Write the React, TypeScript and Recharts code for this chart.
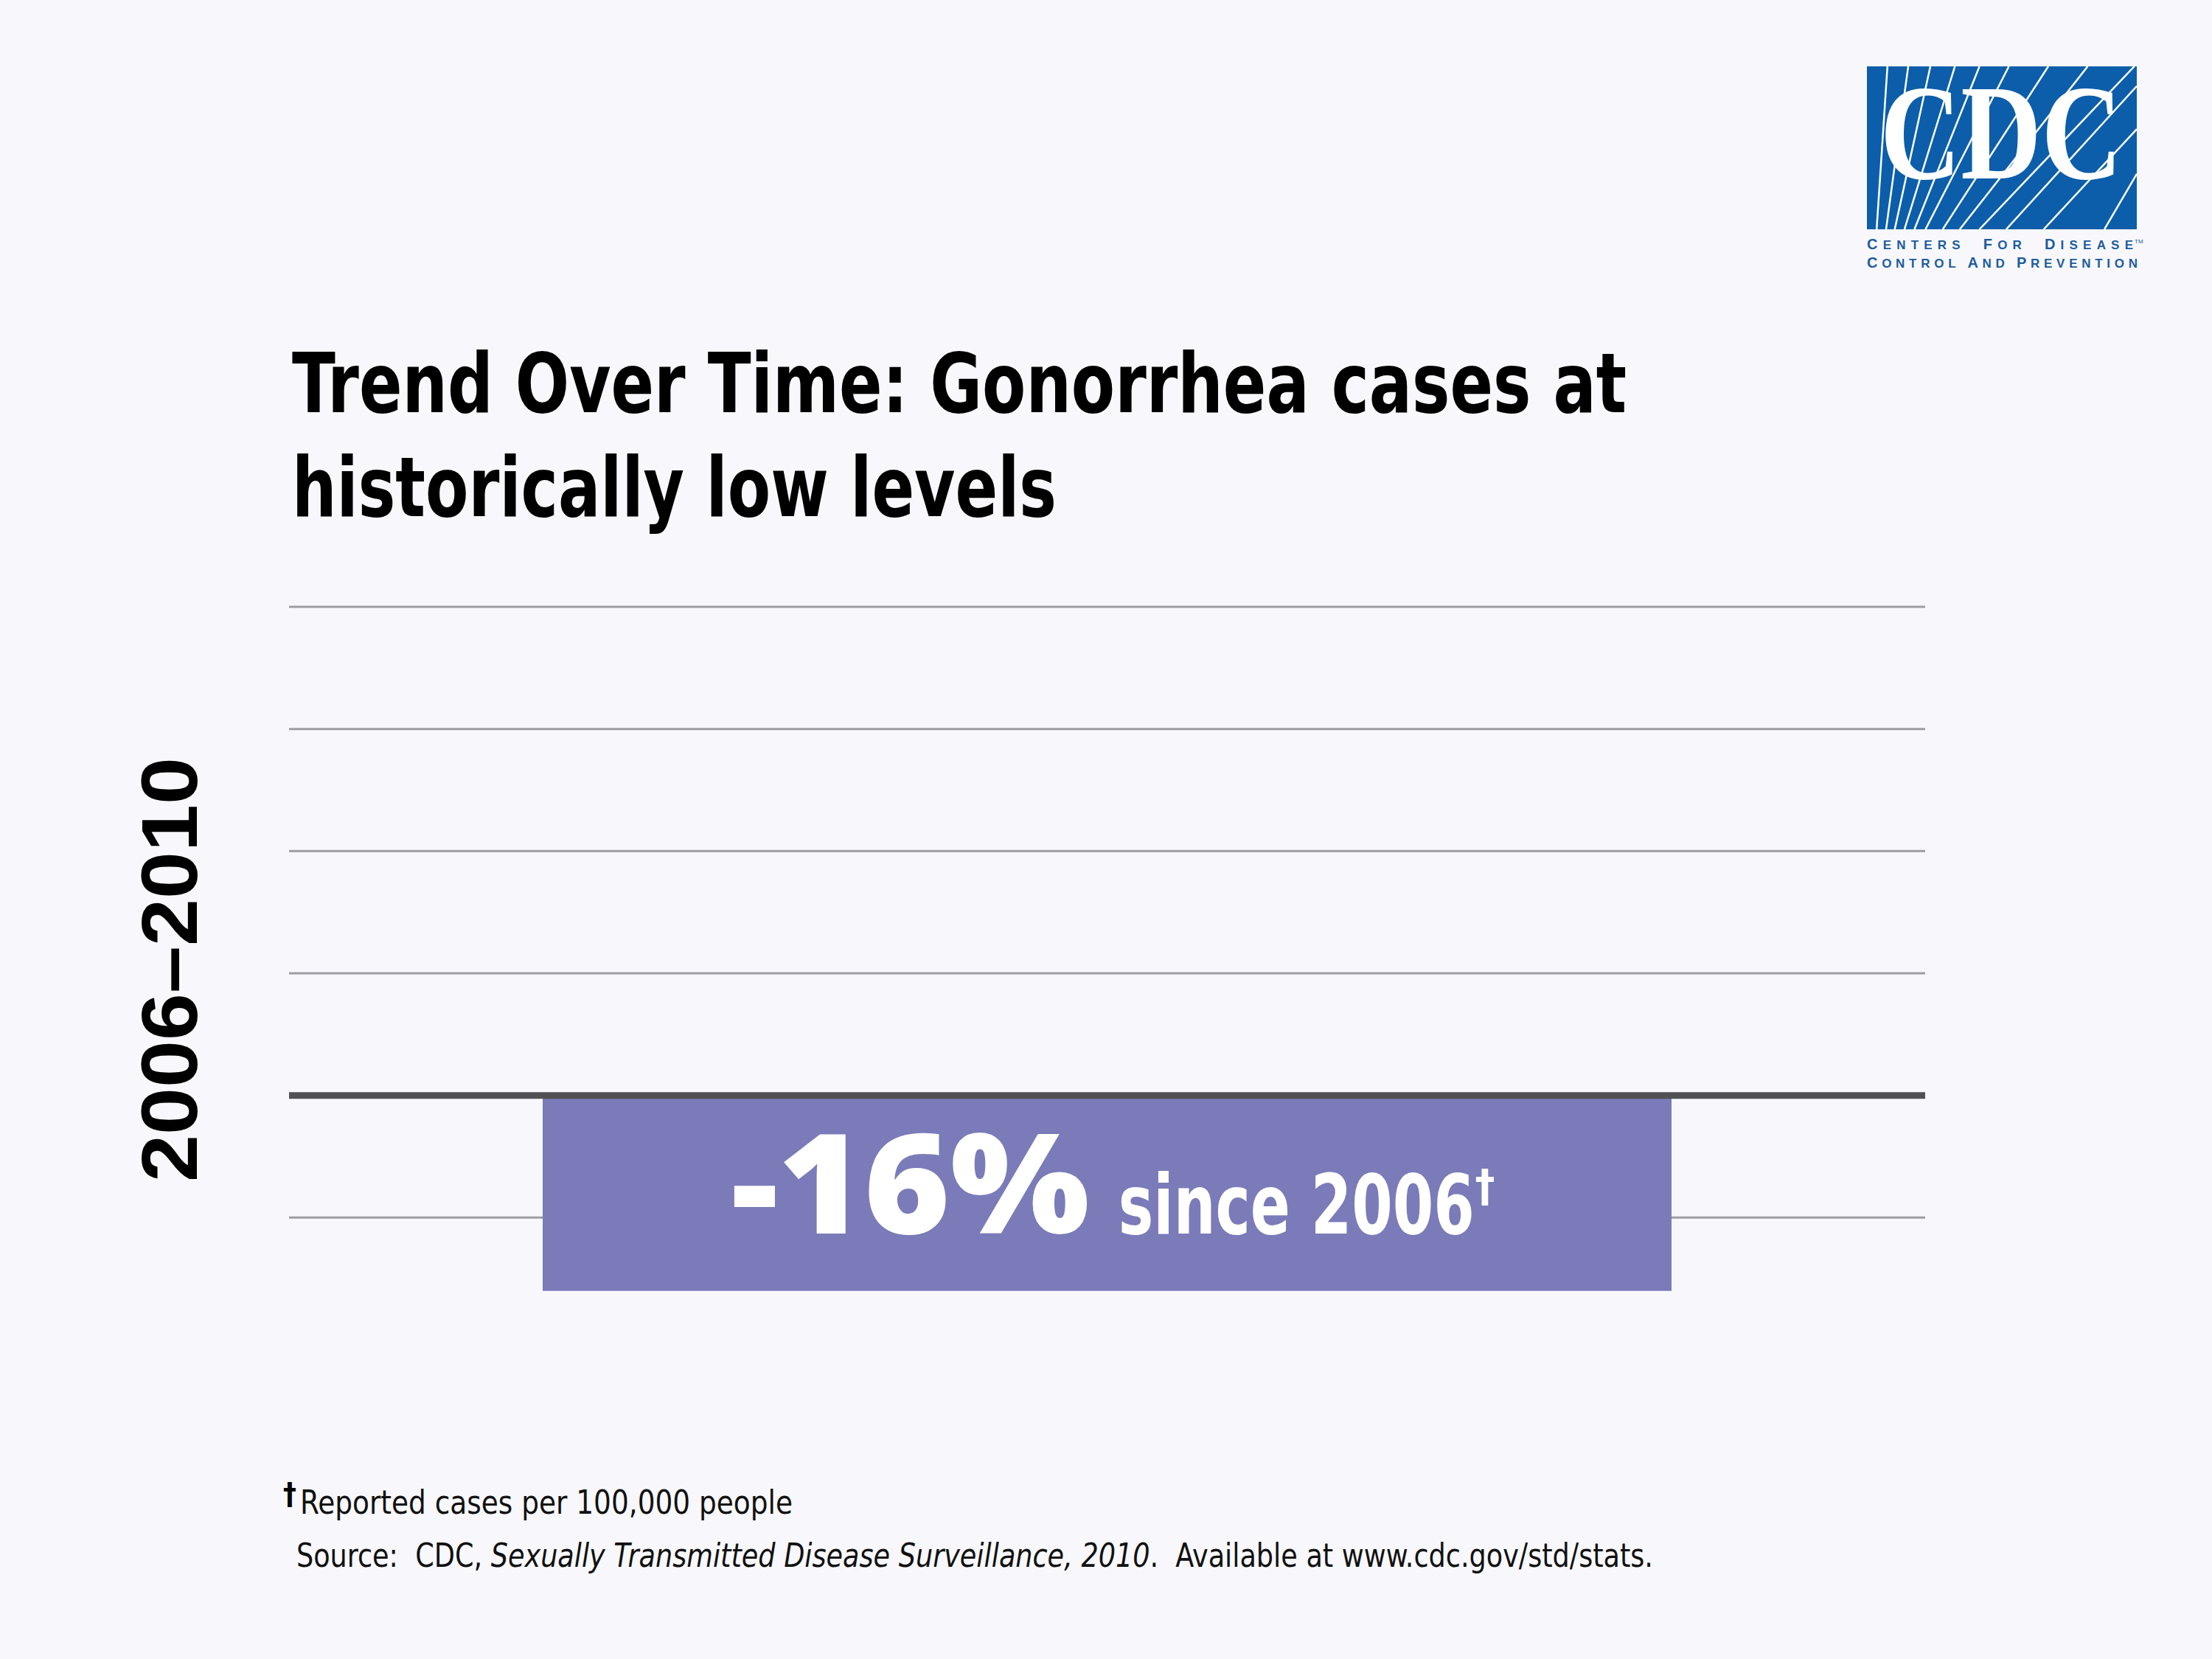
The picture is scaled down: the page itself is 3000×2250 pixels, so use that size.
import React from 'react'
import { BarChart, Bar, XAxis, YAxis, CartesianGrid, ReferenceLine, LabelList } from 'recharts'

// data
const PERIODS = ['2006–2010']
const CHANGE_PCT = [-16]
const BASE_YEAR = 2006
const GRID_TICKS = [-10, 0, 10, 20, 30, 40]

const data = PERIODS.map((period, i) => ({ period, change: CHANGE_PCT[i] }))

const BG = '#f8f8fc'
const BAR = '#7a7bb8'
const NARROW = '"Liberation Sans Narrow", "DejaVu Sans Condensed", "Liberation Sans", sans-serif'
const NB = '\u00a0'

// rays of the CDC logo, [start x, start y, end x, end y] in logo box units (0..1)
const RAYS: [number, number, number, number][] = [
  [0.036, 1, 0.076, 0],
  [0.071, 1, 0.153, 0],
  [0.103, 1, 0.235, 0],
  [0.139, 1, 0.326, 0],
  [0.176, 1, 0.417, 0],
  [0.217, 1, 0.526, 0],
  [0.281, 1, 0.672, 0],
  [0.344, 1, 0.818, 0],
  [0.417, 1, 0.991, 0],
  [0.516, 1, 1, 0.121],
  [0.655, 1, 1, 0.385],
  [0.88, 1, 1, 0.66],
]

function ChangeLabel(props: any) {
  const { x, y, width, height, value } = props
  const top = Math.min(y, y + height)
  const h = Math.abs(height)
  const baseline = top + h * 0.705
  return (
    <g>
      <text
        x={x + width * 0.167}
        y={baseline}
        fill="#fff"
        fontFamily='"Open Sans", sans-serif'
        fontWeight={800}
        fontSize={188}
        textLength={486}
        lengthAdjust="spacingAndGlyphs"
      >
        {`${value}%`}
      </text>
      <text
        x={x + width * 0.51}
        y={baseline}
        fill="#fff"
        fontFamily={NARROW}
        fontWeight={700}
        fontSize={112}
        textLength={483}
        lengthAdjust="spacingAndGlyphs"
      >
        {`since ${BASE_YEAR}`}
      </text>
      <text x={x + width * 0.826} y={baseline - 44} fill="#fff" fontFamily={NARROW} fontWeight={700} fontSize={60}>
        †
      </text>
    </g>
  )
}

function CdcLogo() {
  const bx = 2532, by = 90, bw = 366, bh = 221
  const sub = { fill: '#1d5c9f', fontFamily: '"Liberation Sans", sans-serif', fontWeight: 900 } as const
  return (
    <g>
      <defs>
        <clipPath id="cdcbox">
          <rect x={bx} y={by} width={bw} height={bh} />
        </clipPath>
      </defs>
      <rect x={bx} y={by} width={bw} height={bh} fill="#0c5eaa" />
      <g clipPath="url(#cdcbox)">
        {RAYS.map((r, i) => (
          <line
            key={i}
            x1={bx + r[0] * bw}
            y1={by + r[1] * bh}
            x2={bx + r[2] * bw}
            y2={by + r[3] * bh}
            stroke="#fff"
            strokeWidth={2.5}
          />
        ))}
      </g>
      <text
        x={2550}
        y={242}
        fill="#fff"
        fontFamily='"Liberation Serif", serif'
        fontWeight={700}
        fontSize={184}
        textLength={328}
        lengthAdjust="spacingAndGlyphs"
      >
        CDC
      </text>
      <text x={bx} y={338} {...sub} fontSize={17} textLength={361} lengthAdjust="spacing">
        <tspan fontSize={20}>C</tspan>ENTERS{NB}{NB}<tspan fontSize={20}>F</tspan>OR{NB}{NB}<tspan fontSize={20}>D</tspan>ISEASE
      </text>
      <text x={bx + 363} y={330} fill="#1d5c9f" fontFamily='"Liberation Sans", sans-serif' fontSize={8}>
        TM
      </text>
      <text x={bx} y={363} {...sub} fontSize={17} textLength={367} lengthAdjust="spacing">
        <tspan fontSize={20}>C</tspan>ONTROL <tspan fontSize={20}>A</tspan>ND <tspan fontSize={20}>P</tspan>REVENTION
      </text>
    </g>
  )
}

export default function App() {
  return (
    <div style={{ position: 'absolute', left: 0, top: 0, width: 3000, height: 2250, background: BG }}>
      <BarChart
        width={3000}
        height={2250}
        data={data}
        margin={{ top: 823, right: 389, bottom: 433, left: 392 }}
        barCategoryGap={344}
      >
        <CartesianGrid vertical={false} horizontalValues={GRID_TICKS} stroke="#9d9da3" strokeWidth={3} />
        <XAxis dataKey="period" hide />
        <YAxis type="number" domain={[-20, 40]} ticks={GRID_TICKS} interval={0} allowDataOverflow hide />
        <Bar dataKey="change" fill={BAR} isAnimationActive={false}>
          <LabelList dataKey="change" content={ChangeLabel} />
        </Bar>
        <ReferenceLine y={0} stroke="#505055" strokeWidth={9} />
      </BarChart>

      <svg width={3000} height={2250} style={{ position: 'absolute', left: 0, top: 0, pointerEvents: 'none' }}>
        <CdcLogo />

        <text x={396} y={559} fill="#000" fontFamily={NARROW} fontSize={112} textLength={1810} lengthAdjust="spacingAndGlyphs">
          <tspan fontWeight={800}>Trend Over Time: </tspan>
          <tspan fontWeight={700}>Gonorrhea cases at</tspan>
        </text>
        <text x={396} y={700} fill="#000" fontFamily={NARROW} fontWeight={700} fontSize={112} textLength={1037} lengthAdjust="spacingAndGlyphs">
          historically low levels
        </text>

        <text
          transform="translate(267, 1315) rotate(-90)"
          textAnchor="middle"
          fill="#000"
          fontFamily='"Liberation Sans", sans-serif'
          fontWeight={700}
          fontSize={108}
          textLength={576}
          lengthAdjust="spacingAndGlyphs"
        >
          {PERIODS[0]}
        </text>

        <text x={384} y={2040} fill="#000" fontFamily={NARROW} fontWeight={700} fontSize={40}>
          †
        </text>
        <text x={407} y={2053} fill="#111" fontFamily={NARROW} fontSize={44} textLength={668} lengthAdjust="spacingAndGlyphs">
          Reported cases per 100,000 people
        </text>
        <text x={402} y={2125} fill="#111" fontFamily={NARROW} fontSize={44} textLength={1840} lengthAdjust="spacingAndGlyphs">
          {`Source:${NB}${NB}CDC, `}
          <tspan fontStyle="italic">Sexually Transmitted Disease Surveillance, 2010</tspan>
          {`.${NB}${NB}Available at www.cdc.gov/std/stats.`}
        </text>
      </svg>
    </div>
  )
}
